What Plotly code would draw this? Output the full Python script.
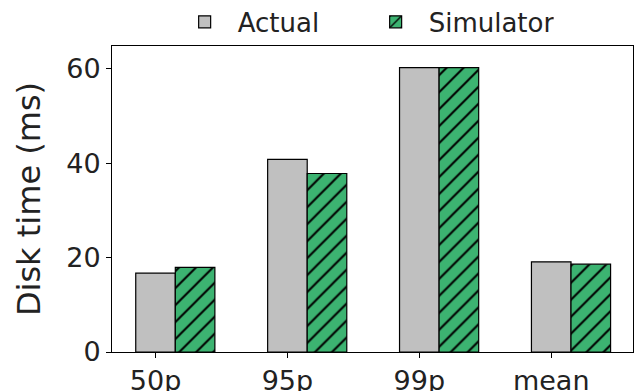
import plotly.graph_objects as go

categories = ["50p", "95p", "99p", "mean"]
actual = [16.7, 40.8, 60.2, 19.1]
simulator = [17.9, 37.8, 60.2, 18.6]
y_ticks = [0, 20, 40, 60]

bar_w = 0.3
pos = list(range(len(categories)))

fig = go.Figure()
fig.add_trace(go.Bar(
    x=pos, y=actual, width=bar_w, name="Actual",
    marker=dict(color="#c0c0c0", line=dict(color="black", width=1.2)),
))
fig.add_trace(go.Bar(
    x=[p + bar_w for p in pos], y=simulator, width=bar_w, name="Simulator",
    marker=dict(color="#3cb371", line=dict(color="black", width=1.2),
                pattern=dict(shape="/", fgcolor="black", bgcolor="#3cb371",
                             size=12, solidity=0.17, fgopacity=1)),
))

font = "DejaVu Sans"
fig.update_layout(
    width=634, height=391,
    margin=dict(l=112, r=1, t=46, b=39, autoexpand=False),
    barmode="overlay",
    plot_bgcolor="white", paper_bgcolor="white",
    font=dict(family=font, size=27, color="#222222"),
    showlegend=True,
    legend=dict(orientation="h", xref="container", yref="container",
                x=0.572, xanchor="center", y=0.944, yanchor="middle",
                font=dict(size=26), bgcolor="rgba(0,0,0,0)", itemwidth=56,
                entrywidth=120, entrywidthmode="pixels",
                tracegroupgap=0),
    xaxis=dict(range=[-0.33, 3.62], tickvals=pos, ticktext=categories,
               showgrid=False, zeroline=False, showline=True, linecolor="black",
               linewidth=1, mirror=True, ticks="outside", ticklen=5,
               tickcolor="black", tickfont=dict(size=27)),
    yaxis=dict(range=[0, 64.8], tickvals=y_ticks, showgrid=False, zeroline=False,
               showline=True, linecolor="black", linewidth=1, mirror=True,
               ticks="outside", ticklen=5, tickcolor="black",
               tickfont=dict(size=27),
               title=dict(text="Disk time (ms)", font=dict(size=32), standoff=16)),
)

fig.write_html("out.html", config={"displayModeBar": False},
               post_script="document.body.style.margin='0';")
